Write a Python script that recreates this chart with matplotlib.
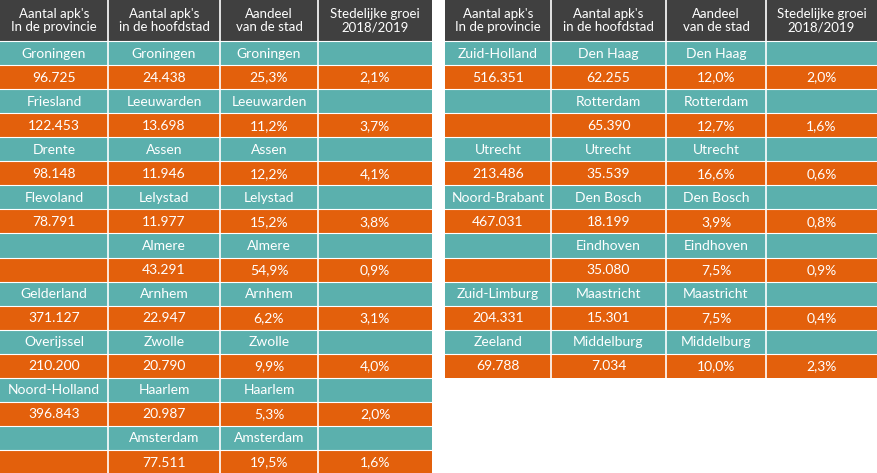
import matplotlib.pyplot as plt
from matplotlib.patches import Rectangle

headers = ["Aantal apk's\nIn de provincie", "Aantal apk's\nin de hoofdstad",
           "Aandeel\nvan de stad", "Stedelijke groei\n2018/2019"]

# each row: province, provincial count, city, city count, share, growth
left_rows = [
    ("Groningen", "96.725", "Groningen", "24.438", "25,3%", "2,1%"),
    ("Friesland", "122.453", "Leeuwarden", "13.698", "11,2%", "3,7%"),
    ("Drente", "98.148", "Assen", "11.946", "12,2%", "4,1%"),
    ("Flevoland", "78.791", "Lelystad", "11.977", "15,2%", "3,8%"),
    ("", "", "Almere", "43.291", "54,9%", "0,9%"),
    ("Gelderland", "371.127", "Arnhem", "22.947", "6,2%", "3,1%"),
    ("Overijssel", "210.200", "Zwolle", "20.790", "9,9%", "4,0%"),
    ("Noord-Holland", "396.843", "Haarlem", "20.987", "5,3%", "2,0%"),
    ("", "", "Amsterdam", "77.511", "19,5%", "1,6%"),
]
right_rows = [
    ("Zuid-Holland", "516.351", "Den Haag", "62.255", "12,0%", "2,0%"),
    ("", "", "Rotterdam", "65.390", "12,7%", "1,6%"),
    ("Utrecht", "213.486", "Utrecht", "35.539", "16,6%", "0,6%"),
    ("Noord-Brabant", "467.031", "Den Bosch", "18.199", "3,9%", "0,8%"),
    ("", "", "Eindhoven", "35.080", "7,5%", "0,9%"),
    ("Zuid-Limburg", "204.331", "Maastricht", "15.301", "7,5%", "0,4%"),
    ("Zeeland", "69.788", "Middelburg", "7.034", "10,0%", "2,3%"),
]

HEAD = '#404040'
TEAL = '#5bb0ad'
ORANGE = '#e3600c'
ROW_H = 24.06
HEAD_H = 41

plt.rcParams['font.family'] = ['Lato', 'DejaVu Sans']
fig = plt.figure(figsize=(8.77, 4.73), dpi=100)
ax = fig.add_axes([0, 0, 1, 1])
ax.set_xlim(0, 877)
ax.set_ylim(473, 0)
ax.axis('off')


def draw_table(x_edges, rows):
    x0, x1 = x_edges[0], x_edges[-1]
    ax.add_patch(Rectangle((x0, 0), x1 - x0, HEAD_H, color=HEAD, lw=0))
    for i, h in enumerate(headers):
        cx = (x_edges[i] + x_edges[i + 1]) / 2
        ax.text(cx, HEAD_H / 2, h, color='white', ha='center', va='center',
                fontsize=9.5, linespacing=1.1)
    y = HEAD_H
    for r in rows:
        top = [r[0], r[2], r[2], ""]
        bot = [r[1], r[3], r[4], r[5]]
        for texts, col in ((top, TEAL), (bot, ORANGE)):
            ax.add_patch(Rectangle((x0, y), x1 - x0, ROW_H, color=col, lw=0))
            ax.plot([x0, x1], [y, y], color='white', lw=0.8)
            for i, t in enumerate(texts):
                cx = (x_edges[i] + x_edges[i + 1]) / 2
                ax.text(cx, y + ROW_H / 2 + 0.5, t, color='white', ha='center',
                        va='center', fontsize=10)
            y += ROW_H
    for xe in x_edges[1:-1]:
        ax.plot([xe, xe], [0, y], color='white', lw=1.2)


draw_table([0, 108, 220, 318, 432], left_rows)
draw_table([445, 551, 666, 766, 877], right_rows)

fig.savefig('out.png', dpi=100)
